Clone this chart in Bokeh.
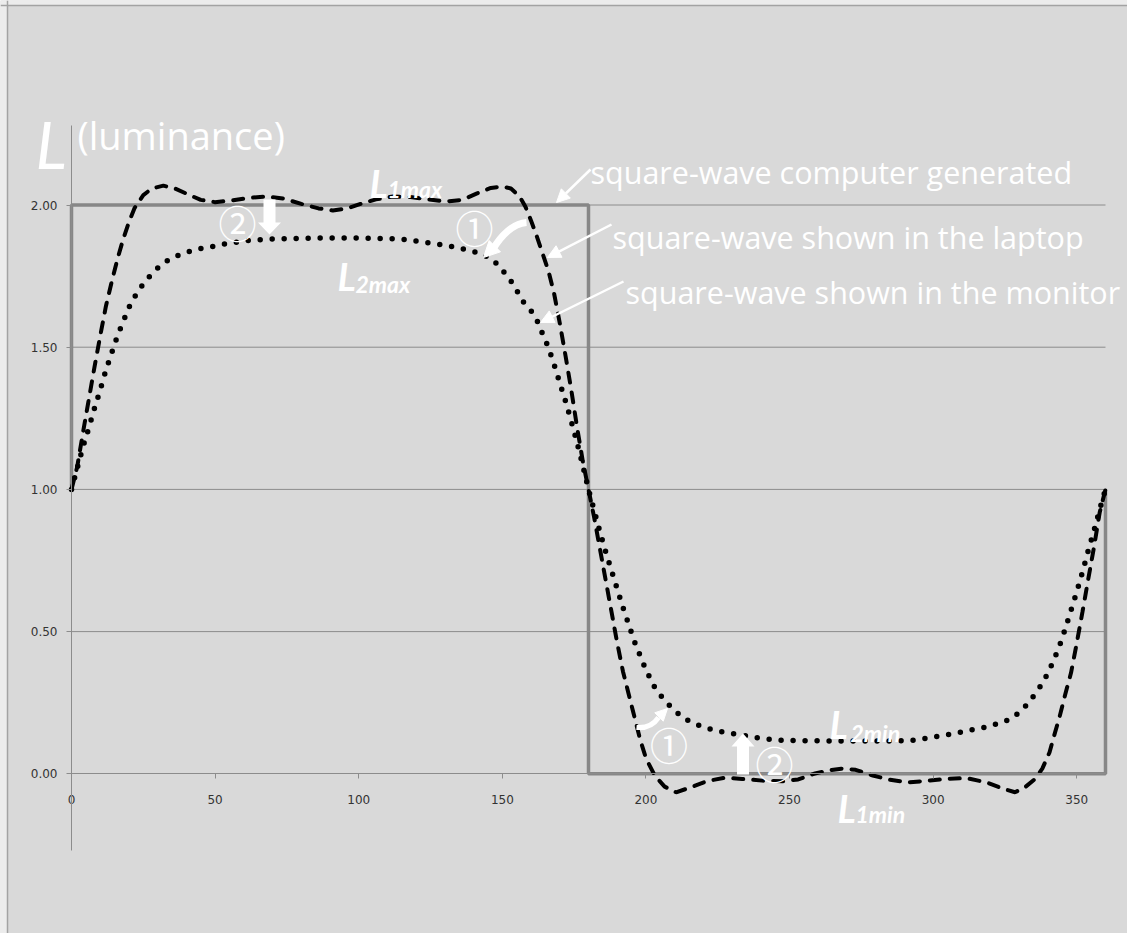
from bokeh.plotting import figure
from bokeh.models import (Range1d, FixedTicker, NumeralTickFormatter, Label, Arrow, NormalHead,
                          PolyAnnotation, Span, BoxAnnotation)
from bokeh.embed import file_html
from bokeh.resources import INLINE

# ---------------- data ----------------
x_ticks = [0, 50, 100, 150, 200, 250, 300, 350]
y_ticks = [0.0, 0.5, 1.0, 1.5, 2.0]
grid_y = [0.5, 1.0, 1.5, 2.0]

# square-wave computer generated
square_x = [0, 0, 180, 180, 360, 360]
square_y = [1, 2, 2, 0, 0, 1]

# square-wave shown in the laptop (dashed)
laptop_x = [0, 2, 4, 6, 8, 10, 12, 14, 16, 18, 20, 22, 25, 28, 32, 36, 40, 45, 50, 56,
            62, 68, 74, 80, 86, 91, 96, 101, 106, 112, 118, 124, 130, 136, 141, 146, 150,
            153, 156, 158, 160, 162, 164, 166, 168, 170, 172, 174, 176, 178, 180,
            182, 184, 186, 188, 190, 192, 194, 196, 198, 200, 203, 206.5, 210.5, 215.5,
            221.5, 227.5, 233.5, 240.5, 248, 253, 258.5, 263.5, 268, 273, 279, 285, 291,
            297, 304, 311.5, 318.5, 324.5, 328.5, 332, 335.5, 338, 340.5, 342, 344, 346,
            348, 350, 352, 354, 356, 358, 360]
laptop_y = [1.00, 1.08, 1.20, 1.315, 1.43, 1.54, 1.645, 1.73, 1.81, 1.88, 1.94, 1.99, 2.035,
            2.058, 2.068, 2.058, 2.040, 2.018, 2.010, 2.016, 2.025, 2.030, 2.022, 2.004,
            1.988, 1.981, 1.988, 2.005, 2.020, 2.030, 2.028, 2.020, 2.012, 2.018, 2.040,
            2.060, 2.065, 2.058, 2.030, 1.995, 1.945, 1.89, 1.83, 1.77, 1.69, 1.585, 1.47,
            1.35, 1.22, 1.10, 1.00,
            0.90, 0.79, 0.68, 0.57, 0.46, 0.36, 0.28, 0.20, 0.12, 0.055, -0.005, -0.045,
            -0.065, -0.048, -0.025, -0.014, -0.018, -0.024, -0.026, -0.020, 0.000, 0.012,
            0.018, 0.014, -0.006, -0.021, -0.030, -0.026, -0.018, -0.015, -0.030, -0.053,
            -0.065, -0.047, -0.018, 0.018, 0.075, 0.13, 0.20, 0.28, 0.355, 0.46, 0.57,
            0.685, 0.797, 0.92, 1.00]

# square-wave shown in the monitor (dotted)
monitor_x = [0, 2, 4, 6, 8, 10, 12, 14, 16, 18, 20, 22.3, 24.6, 27.4, 30.3, 33.2, 37.3, 41.4,
             45.5, 49.6, 53.6, 57.7, 61.7, 65.8, 70.5, 80, 90, 100, 110, 115, 120, 125,
             130.5, 136, 140, 143.3, 146, 148.1, 150.5, 152.9, 155, 156.9, 159, 160.9,
             162.5, 164, 166, 168, 170, 172, 174, 176, 178, 180,
             182, 184, 186, 188, 190, 192, 194, 196, 198, 200, 203, 206, 209, 212, 215.6,
             219.8, 223.4, 227.6, 231.8, 236, 240.2, 244.4, 248.6, 260, 270, 280, 290.5,
             294.7, 298.9, 303.1, 307.3, 310.9, 315.1, 319.3, 322.9, 327.1, 330.1, 333.1,
             335.5, 337.9, 340, 342, 344, 346, 348, 350, 352, 354, 356, 358, 360]
monitor_y = [1.00, 1.075, 1.15, 1.215, 1.285, 1.35, 1.42, 1.48, 1.54, 1.59, 1.64, 1.682,
             1.717, 1.752, 1.781, 1.803, 1.824, 1.838, 1.848, 1.855, 1.864, 1.869, 1.875,
             1.878, 1.881, 1.883, 1.884, 1.884, 1.882, 1.880, 1.873, 1.866, 1.858, 1.846,
             1.836, 1.826, 1.81, 1.793, 1.765, 1.734, 1.70, 1.664, 1.64, 1.617, 1.585,
             1.547, 1.50, 1.44, 1.375, 1.31, 1.24, 1.165, 1.085, 1.00,
             0.925, 0.85, 0.78, 0.715, 0.65, 0.585, 0.525, 0.465, 0.415, 0.365, 0.305,
             0.264, 0.232, 0.205, 0.181, 0.166, 0.154, 0.146, 0.139, 0.131, 0.124, 0.120,
             0.117, 0.116, 0.115, 0.115, 0.116, 0.120, 0.127, 0.135, 0.141, 0.150, 0.158,
             0.166, 0.178, 0.193, 0.217, 0.248, 0.281, 0.316, 0.355, 0.40, 0.45, 0.51,
             0.575, 0.64, 0.71, 0.785, 0.855, 0.93, 1.00]

# ---------------- figure ----------------
BG = "#d9d9d9"
GRID = "#8c8c8c"
TICKTXT = "#333333"
WHITE = "white"
FONT = "Open Sans"
LFONT = "Lato"

W, H = 1127, 933
X0PX, XSCALE = 71.0, 2.8722      # pixel of x=0, pixels per degree
Y0PX, YSCALE = 773.3, 284.4      # pixel of y=0, pixels per unit


def dx(px):
    return (px - X0PX) / XSCALE


def dy(py):
    return (Y0PX - py) / YSCALE


p = figure(width=W, height=H,
           x_range=Range1d(dx(0), dx(W)), y_range=Range1d(dy(H), dy(0)),
           output_backend="svg", toolbar_location=None,
           min_border_left=0, min_border_right=0, min_border_top=0, min_border_bottom=0,
           background_fill_color=BG, border_fill_color=BG, outline_line_color=None)

# outer chart border (top and left)
p.add_layout(BoxAnnotation(bottom=dy(5), fill_color="#ececec", fill_alpha=1, line_color=None))
p.add_layout(BoxAnnotation(right=dx(7), fill_color="#ececec", fill_alpha=1, line_color=None))
p.add_layout(Span(location=dy(5), dimension="width", line_color="#a3a3a3", line_width=1.5))
p.add_layout(Span(location=dx(7), dimension="height", line_color="#a3a3a3", line_width=1.5))

# axes crossing at the origin
p.xaxis.ticker = FixedTicker(ticks=x_ticks)
p.xaxis.fixed_location = 0
p.xaxis.bounds = (0, 360)
p.xaxis.axis_line_color = GRID
p.xaxis.major_tick_line_color = GRID
p.xaxis.major_tick_in = 0
p.xaxis.major_tick_out = 5
p.xaxis.minor_tick_line_color = None
p.xaxis.major_label_standoff = 16
p.xaxis.major_label_text_font = "DejaVu Sans"
p.xaxis.major_label_text_font_size = "12px"
p.xaxis.major_label_text_color = TICKTXT

p.yaxis.ticker = FixedTicker(ticks=y_ticks)
p.yaxis.fixed_location = 0
p.yaxis.bounds = (dy(850), dy(125))
p.yaxis.formatter = NumeralTickFormatter(format="0.00")
p.yaxis.axis_line_color = GRID
p.yaxis.major_tick_line_color = GRID
p.yaxis.major_tick_in = 0
p.yaxis.major_tick_out = 5
p.yaxis.minor_tick_line_color = None
p.yaxis.major_label_standoff = 9
p.yaxis.major_label_text_font = "DejaVu Sans"
p.yaxis.major_label_text_font_size = "12px"
p.yaxis.major_label_text_color = TICKTXT

p.xgrid.visible = False
p.ygrid.visible = False
# horizontal gridlines limited to the plot area
p.segment(x0=[0] * len(grid_y), x1=[360] * len(grid_y), y0=grid_y, y1=grid_y,
          line_color=GRID, line_width=1)

# series
p.line(square_x, square_y, line_color="#878787", line_width=3.5)
p.line(monitor_x, monitor_y, line_color="black", line_width=5.5, line_dash="0 12", line_cap="round")
p.line(laptop_x, laptop_y, line_color="black", line_width=4, line_dash="10 10", line_cap="round")


# ---------------- annotations ----------------
def lab(px, py, text, size, style="normal", align="left", baseline="alphabetic", font=FONT):
    p.add_layout(Label(x=dx(px), y=dy(py), text=text, text_font=font, text_font_size=size,
                       text_font_style=style, text_color=WHITE, text_align=align,
                       text_baseline=baseline))


# title
lab(35, 143, "L", "66px", "italic", font=LFONT)
lab(77, 134, "(luminance)", "38px")

# series descriptions
lab(590, 171, "square-wave computer generated", "30.5px")
lab(612, 236.5, "square-wave shown in the laptop", "30.5px")
lab(625, 291.5, "square-wave shown in the monitor", "30.5px")

# L labels
lab(369, 182, "L", "38px", "bold italic", font=LFONT)
lab(387, 188.5, "1max", "23px", "bold italic", font=LFONT)
lab(337, 275, "L", "38px", "bold italic", font=LFONT)
lab(355, 283.5, "2max", "23px", "bold italic", font=LFONT)
lab(829, 723.5, "L", "38px", "bold italic", font=LFONT)
lab(850, 732, "2min", "23px", "bold italic", font=LFONT)
lab(837, 807, "L", "38px", "bold italic", font=LFONT)
lab(855, 813.5, "1min", "23px", "bold italic", font=LFONT)

# circled numbers
CJK = "Noto Sans CJK JP"
lab(237, 221, "②", "38px", align="center", baseline="middle", font=CJK)
lab(474, 226, "①", "38px", align="center", baseline="middle", font=CJK)
lab(668.5, 742.5, "①", "38px", align="center", baseline="middle", font=CJK)
lab(774, 761.5, "②", "38px", align="center", baseline="middle", font=CJK)


# pointer arrows
def arrow(x0, y0, x1, y1, width=2.5, head=13):
    p.add_layout(Arrow(end=NormalHead(size=head, fill_color=WHITE, line_color=WHITE),
                       x_start=dx(x0), y_start=dy(y0), x_end=dx(x1), y_end=dy(y1),
                       line_color=WHITE, line_width=width))


arrow(590, 169, 556, 202)
arrow(611, 224, 547, 257)
arrow(623, 281, 540, 322)


# block arrows
def block_arrow(cx, ytail, ytip, shaft=12, headw=23, headl=12):
    d = 1 if ytip > ytail else -1
    yb = ytip - d * headl
    xs = [cx - shaft / 2, cx + shaft / 2, cx + shaft / 2, cx + headw / 2, cx, cx - headw / 2, cx - shaft / 2]
    ys = [ytail, ytail, yb, yb, ytip, yb, yb]
    p.add_layout(PolyAnnotation(xs=[dx(v) for v in xs], ys=[dy(v) for v in ys],
                                fill_color=WHITE, fill_alpha=1, line_color=None))


block_arrow(269, 199, 234)
block_arrow(742.5, 774, 733, headl=13)

# curved arrows
p.bezier(x0=[dx(526)], y0=[dy(222)], x1=[dx(493)], y1=[dy(248)],
         cx0=[dx(512)], cy0=[dy(223)], cx1=[dx(500)], cy1=[dy(236)],
         line_color=WHITE, line_width=7)
p.add_layout(Arrow(end=NormalHead(size=16, fill_color=WHITE, line_color=WHITE),
                   x_start=dx(495), y_start=dy(245), x_end=dx(483), y_end=dy(257),
                   line_alpha=0))
p.bezier(x0=[dx(636)], y0=[dy(727)], x1=[dx(658)], y1=[dy(717)],
         cx0=[dx(648)], cy0=[dy(728)], cx1=[dx(654)], cy1=[dy(723)],
         line_color=WHITE, line_width=5)
p.add_layout(Arrow(end=NormalHead(size=12, fill_color=WHITE, line_color=WHITE),
                   x_start=dx(657), y_start=dy(718), x_end=dx(667), y_end=dy(708),
                   line_alpha=0))

open("out.html", "w").write(file_html(p, INLINE))
